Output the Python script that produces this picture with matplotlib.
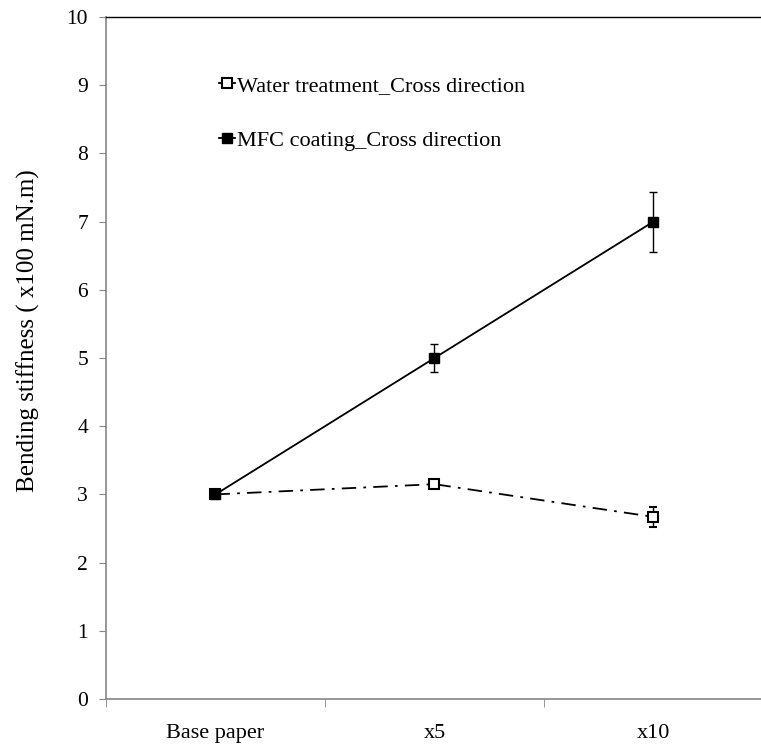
import matplotlib
matplotlib.use("Agg")
import matplotlib.pyplot as plt
from matplotlib.lines import Line2D
import numpy as np

plt.rcParams['font.family'] = ['Liberation Serif', 'DejaVu Serif']

categories = ["Base paper", "x5", "x10"]
water = [3.0, 3.15, 2.67]
water_err = [0.0, 0.0, 0.15]
mfc = [3.0, 5.0, 7.0]
mfc_err = [0.0, 0.2, 0.44]

fig = plt.figure(figsize=(7.61, 7.46), dpi=100)
ax = fig.add_axes([106/761, 47/746, (763-106)/761, (699-17)/746])

x = np.arange(len(categories))
ax.errorbar(x, water, yerr=water_err, color='black', lw=1.3, linestyle=(0, (8, 4, 1.5, 4)),
            marker='s', markersize=6.5, markerfacecolor='white', markeredgecolor='black',
            markeredgewidth=1.5, ecolor='black', elinewidth=1, capsize=3)
ax.errorbar(x, mfc, yerr=mfc_err, color='black', lw=1.3, linestyle='-',
            marker='s', markersize=6.5, markerfacecolor='black', markeredgecolor='black',
            ecolor='black', elinewidth=1, capsize=3)

ax.set_xlim(-0.5, 2.5)
ax.set_ylim(0, 10)
ax.set_yticks(range(0, 11))
ax.set_xticks(x)
ax.set_xticklabels(categories, fontsize=16)
ax.tick_params(axis='x', length=0, pad=18)
ax.set_xticks([-0.5, 0.5, 1.5, 2.5], minor=True)
ax.tick_params(axis='x', which='minor', length=6, color='#868686', direction='out')
ax.tick_params(axis='y', length=5, color='#868686', labelsize=15.5, pad=8)

for s in ['left', 'bottom']:
    ax.spines[s].set_color('#868686')
    ax.spines[s].set_linewidth(1.2)
ax.spines['right'].set_visible(False)
ax.spines['top'].set_color('black')
ax.spines['top'].set_linewidth(1.0)

ax.set_ylabel('Bending stiffness ( x100 mN.m)', fontsize=18)
ax.yaxis.set_label_coords(-0.10, 0.54)

handles = [
    Line2D([0], [0], color='black', lw=1.3, marker='s', markersize=6.5,
           markerfacecolor='white', markeredgecolor='black', markeredgewidth=1.5),
    Line2D([0], [0], color='black', lw=1.3, marker='s', markersize=6.5,
           markerfacecolor='black', markeredgecolor='black'),
]
labels = ['Water treatment_Cross direction', 'MFC coating_Cross direction']
leg = ax.legend(handles, labels, loc='upper left', bbox_to_anchor=(0.142, 0.944), frameon=False,
                fontsize=16, handlelength=0.7, handletextpad=0.1, labelspacing=1.55,
                numpoints=1, markerfirst=True)

fig.savefig('out.png', dpi=100)
